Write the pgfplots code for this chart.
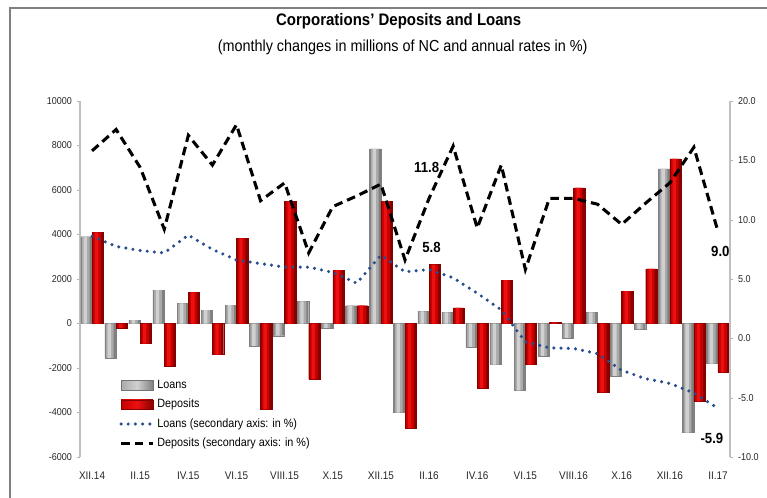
\documentclass[border=0pt]{standalone}
\usepackage{fontspec}
\setmainfont{Liberation Sans}[FakeStretch=0.9]
\usepackage{pgfplots}
\usepackage{pgfplotstable}
\pgfplotsset{compat=1.18}
\definecolor{redD}{RGB}{135,0,0}
\definecolor{redM}{RGB}{200,0,0}
\definecolor{redB}{RGB}{236,16,16}
\definecolor{grayD}{RGB}{128,128,128}
\definecolor{grayM}{RGB}{170,170,170}
\definecolor{grayB}{RGB}{208,208,208}
\definecolor{dotblue}{RGB}{38,78,140}

\pgfplotstableread{
idx loans deposits
0 3900 4100
1 -1550 -200
2 150 -900
3 1500 -1900
4 900 1400
5 600 -1400
6 830 3830
7 -1000 -3860
8 -550 5500
9 1000 -2500
10 -200 2400
11 800 800
12 7850 5500
13 -4000 -4700
14 550 2650
15 500 700
16 -1050 -2900
17 -1850 1950
18 -3000 -1850
19 -1450 50
20 -650 6100
21 500 -3100
22 -2350 1450
23 -250 2450
24 6950 7400
25 -4900 -3500
26 -1800 -2200
}\flows

\pgfplotstableread{
idx loansr depr
0 8.6 15.8
1 7.75 17.6
2 7.4 14.4
3 7.2 9.2
4 8.7 17.1
5 7.5 14.6
6 6.6 18.0
7 6.3 11.6
8 6.0 13.1
9 6.0 7.2
10 5.55 11.1
11 4.65 12.0
12 7.0 13.0
13 5.6 6.6
14 5.8 11.8
15 5.1 16.2
16 3.8 9.3
17 2.4 14.6
18 -0.3 5.8
19 -0.8 11.8
20 -0.85 11.8
21 -1.3 11.3
22 -2.7 9.6
23 -3.4 11.4
24 -3.8 13.1
25 -4.6 16.1
26 -5.9 9.0
}\rates

\pgfplotsset{
  graylegend/.style={left color=grayM, right color=grayD, middle color=grayB, draw=black!55, line width=0.3pt},
  redlegend/.style={left color=redM, right color=redD, middle color=redB, draw=redD, line width=0.3pt},
  barlegend/.style={legend image code/.code={\draw[##1] (0pt,-3.5pt) rectangle (24pt,3.5pt);}},
  linelegend/.style={legend image code/.code={\draw[##1] (0pt,0pt) -- (24pt,0pt);}},
  dotline/.style={dotblue, line width=2.6pt, line cap=round, dash pattern=on 0pt off 5.4pt},
  dashline/.style={black, line width=2.3pt, dash pattern=on 6.5pt off 3.8pt},
}

\begin{document}
\begin{tikzpicture}
\path[use as bounding box] (0,0) rectangle (575.25pt,372.75pt);
\draw[black!50, line width=1.2pt] (7.5pt,-2pt) -- (7.5pt,366.75pt) -- (580pt,366.75pt);

\node[font=\bfseries\fontsize{12.5}{14}\selectfont] at (299pt,356.5pt) {Corporations' Deposits and Loans};
\node[font=\fontsize{12}{14}\selectfont] at (302pt,337.5pt) {(monthly changes in millions of NC and annual rates in \%)};

\begin{axis}[
  at={(60pt,30pt)}, anchor=south west, scale only axis,
  width=487.5pt, height=267pt,
  xmin=-0.5, xmax=26.5, ymin=-6000, ymax=10000,
  axis y line*=left, axis x line*=bottom,
  x axis line style={draw=none},
  xtick={0,2,...,26},
  xticklabels={XII.14,II.15,IV.15,VI.15,VIII.15,X.15,XII.15,II.16,IV.16,VI.15,VIII.16,X.16,XII.16,II.17},
  xtick style={draw=none},
  xticklabel style={font=\fontsize{8.3}{9}\selectfont, text=black!85, yshift=-5pt},
  ytick={-6000,-4000,...,10000},
  y axis line style={draw=black!25, line width=0.8pt, -},
  ytick style={draw=black!30},
  tick align=outside, major tick length=2.5pt,
  yticklabel style={font=\fontsize{7.5}{8}\selectfont, text=black!85},
  /pgf/number format/assume math mode=true,
  /pgf/number format/set thousands separator={},
  scaled y ticks=false,
  clip=false,
]
\draw[black!20, line width=0.6pt] (axis cs:-0.5,0) -- (axis cs:26.5,0);
% loans: layered bars for a 3-D look
\addplot[ybar, bar width=0.47, bar shift=-0.235, fill=grayD, draw=black!50, line width=0.3pt] table[x=idx, y=loans] {\flows};
\addplot[ybar, bar width=0.32, bar shift=-0.26, fill=grayM, draw=none] table[x=idx, y=loans] {\flows};
\addplot[ybar, bar width=0.14, bar shift=-0.28, fill=grayB, draw=none] table[x=idx, y=loans] {\flows};
% deposits
\addplot[ybar, bar width=0.47, bar shift=0.235, fill=redD, draw=redD, line width=0.3pt] table[x=idx, y=deposits] {\flows};
\addplot[ybar, bar width=0.32, bar shift=0.21, fill=redM, draw=none] table[x=idx, y=deposits] {\flows};
\addplot[ybar, bar width=0.14, bar shift=0.19, fill=redB, draw=none] table[x=idx, y=deposits] {\flows};
\end{axis}

\begin{axis}[
  at={(60pt,30pt)}, anchor=south west, scale only axis,
  width=487.5pt, height=267pt,
  xmin=-0.5, xmax=26.5, ymin=-10, ymax=20,
  axis x line=none, axis y line*=right,
  ytick={-10,-5,...,20},
  y axis line style={draw=black!25, line width=0.8pt, -},
  ytick style={draw=black!30},
  tick align=outside, major tick length=2.5pt,
  yticklabel style={font=\fontsize{7.5}{8}\selectfont, text=black!85,
    /pgf/number format/fixed, /pgf/number format/fixed zerofill, /pgf/number format/precision=1},
  /pgf/number format/assume math mode=true,
  clip=false,
  legend style={at={(0.058,0.228)}, anchor=north west, draw=none, fill=none,
    font=\fontsize{9}{10}\selectfont, row sep=2.6pt, inner sep=1pt},
  legend cell align=left,
]
\addlegendimage{barlegend, graylegend}
\addlegendentry{Loans}
\addlegendimage{barlegend, redlegend}
\addlegendentry{Deposits}
\addplot[dotline, linelegend] table[x=idx, y=loansr] {\rates};
\addlegendentry{Loans (secondary axis: in \%)}
\addplot[dashline, linelegend] table[x=idx, y=depr] {\rates};
\addlegendentry{Deposits (secondary axis: in \%)}
\node[font=\bfseries\fontsize{11}{12}\selectfont] at (axis cs:13.9,14.4) {11.8};
\node[font=\bfseries\fontsize{11}{12}\selectfont] at (axis cs:14.1,7.7) {5.8};
\node[font=\bfseries\fontsize{11}{12}\selectfont] at (axis cs:26.1,7.3) {9.0};
\node[font=\bfseries\fontsize{11}{12}\selectfont] at (axis cs:25.75,-8.4) {-5.9};
\end{axis}
\end{tikzpicture}
\end{document}
